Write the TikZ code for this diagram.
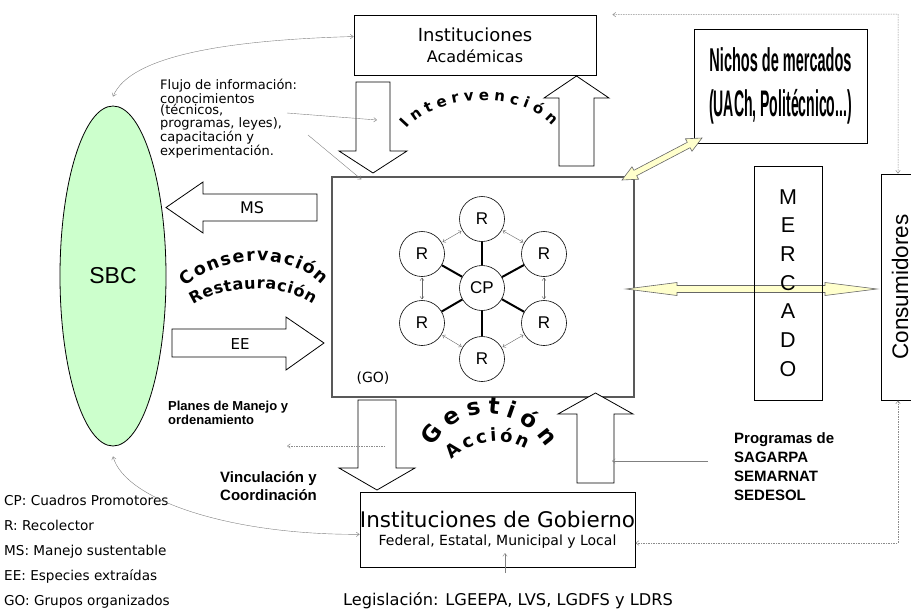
\documentclass[tikz,border=0pt]{standalone}
\usepackage{fontspec}
\setmainfont{Liberation Sans}
\newfontfamily\tahofont{DejaVu Sans}
\usetikzlibrary{shapes.geometric,arrows.meta,decorations.text}

\definecolor{sbcgreen}{HTML}{CCFFCC}
\definecolor{paleyel}{HTML}{FFFFCC}
\newcommand\setfs[1]{\fontsize{#1}{#1}\selectfont}

\tikzset{
  box/.style={draw, line width=0.8pt, inner sep=0pt, align=center},
  txt/.style={inner sep=0pt, align=left},
  recol/.style={circle, draw, line width=0.6pt, minimum size=45pt, inner sep=0pt, font=\setfs{17}},
  spoke/.style={line width=2pt},
  ring/.style={gray!80!black, line width=0.4pt, {Straight Barb[length=2.5pt,width=4pt]}-{Straight Barb[length=2.5pt,width=4pt]}, shorten <=1pt, shorten >=1pt},
  blk/.style={draw, line width=0.8pt, fill=white},
  yel/.style={draw=black!60, line width=0.6pt, fill=paleyel},
  info/.style={gray, line width=0.4pt, -{Straight Barb[length=3pt,width=4.5pt]}},
  dots/.style={gray!90, line width=0.5pt, dash pattern=on 1.5pt off 1pt},
  arcline/.style={gray, line width=0.4pt, {Straight Barb[length=3pt,width=4.5pt]}-{Straight Barb[length=3pt,width=4.5pt]}},
  curvetext/.style={decorate, decoration={text along path, text align=fit to path, text={#1}}}
}

\begin{document}
\begin{tikzpicture}[x=1pt,y=-1pt]
\useasboundingbox (0,0) rectangle (911,611);

% boxes
\node[box, minimum width=242pt, minimum height=60pt, font=\tahofont\fontsize{16}{21}\selectfont] (academ) at (475,45) {{\setfs{18}Instituciones}\\Académicas};
\node[box, draw=black!65, line width=1.1pt, minimum width=302pt, minimum height=220pt] (grupo) at (483,287) {};
\node[txt, font=\tahofont\setfs{14}] (go) at (373,378) {(GO)};
\node[ellipse, draw, line width=0.8pt, fill=sbcgreen, minimum width=106pt, minimum height=340pt, inner sep=0pt, font=\setfs{23}] (sbc) at (113,276) {SBC};
\node[box, minimum width=173pt, minimum height=114pt, font=\bfseries\fontsize{33}{45}\selectfont] (nichos) at (780.5,86)
  {\scalebox{0.44}[1]{Nichos de mercados}\\\scalebox{0.38}[1]{\setfs{37}(UACh, Politécnico...)}};
\node[box, minimum width=271pt, minimum height=75pt, font=\tahofont\fontsize{14}{18}\selectfont] (gob) at (497.5,529.5)
  {{\setfs{21.5}Instituciones de Gobierno}\\Federal, Estatal, Municipal y Local};

% recolectores
\node[recol] (cp) at (482,288) {CP};
\foreach \n/\x/\y in {1/482/219, 2/544/254, 3/544/323, 4/482/359, 5/422/323, 6/422/254}
  \node[recol] (r\n) at (\x,\y) {R};
\foreach \n in {1,...,6}
  \draw[spoke] (cp) -- (r\n);
\foreach \a/\b in {1/2, 2/3, 3/4, 4/5, 5/6, 6/1}
  \draw[ring] (r\a) -- (r\b);

% block arrows
\draw[blk] (356,82) -- (390,82) -- (390,151) -- (407,151) -- (373,173) -- (339,151) -- (356,151) -- cycle;
\draw[blk] (559,166) -- (594,166) -- (594,98) -- (609,98) -- (576.5,76) -- (544,98) -- (559,98) -- cycle;
\draw[blk] (317,194) -- (317,221) -- (203,221) -- (203,233) -- (166,207.5) -- (203,182) -- (203,194) -- cycle;
\draw[blk] (172,329) -- (286,329) -- (286,317) -- (324,343) -- (286,370) -- (286,357) -- (172,357) -- cycle;
\draw[blk] (358,400) -- (396,400) -- (396,468) -- (415,468) -- (377,490) -- (339,468) -- (358,468) -- cycle;
\draw[blk] (577,483) -- (614,483) -- (614,414) -- (633,414) -- (595.5,393) -- (558,414) -- (577,414) -- cycle;
\node[txt, font=\tahofont\setfs{16}] (ms) at (252,208) {MS};
\node[txt, font=\tahofont\setfs{15}] (ee) at (240,344) {EE};

% yellow arrows
\draw[yel] (622,180) -- (638.6,179.2) -- (636.7,175.7) -- (690.1,147.7) -- (692.0,151.2) -- (702,138)
  -- (685.4,138.8) -- (687.3,142.3) -- (633.9,170.3) -- (632.0,166.8) -- cycle;
\draw[yel] (626,289) -- (677,282.5) -- (677,285.5) -- (825,285.5) -- (825,282.5) -- (877,289)
  -- (825,295.5) -- (825,292.5) -- (677,292.5) -- (677,295.5) -- cycle;

\node[box, minimum width=68pt, minimum height=234pt, font=\fontsize{21.5}{28.7}\selectfont] (mercado) at (788,283) {M\\E\\R\\C\\A\\D\\O};
\node[box, rotate=90, minimum width=226pt, minimum height=38pt, font=\setfs{22.5}] (consum) at (900,287) {Consumidores};

% curved words
\path[curvetext={|\tahofont\bfseries\fontsize{15}{15}\selectfont|Intervención}] (407,129) .. controls (437,93) and (520,90) .. (552,126);
\path[curvetext={|\tahofont\bfseries\fontsize{17.5}{17.5}\selectfont|Conservación}] (186,287) .. controls (219,255) and (288,250) .. (322,285);
\path[curvetext={|\tahofont\bfseries\fontsize{16}{16}\selectfont|Restauración}] (193,305) .. controls (224,285) and (280,282) .. (313,304);
\path[curvetext={|\tahofont\bfseries\fontsize{23}{23}\selectfont|Gestión}] (433,447) .. controls (457,403) and (517,403) .. (546,448);
\path[curvetext={|\tahofont\bfseries\fontsize{18}{18}\selectfont|Acción}] (452,460) .. controls (470,441) and (504,435) .. (526,449);

% texts
\node[txt, anchor=north west, font=\tahofont\fontsize{13}{11.5}\selectfont] (flujo) at (160,79)
  {Flujo de información:\\conocimientos\\(técnicos,\\programas, leyes),\\capacitación y\\experimentación.};
\node[txt, anchor=north west, font=\bfseries\fontsize{13}{14}\selectfont] (planes) at (168,401) {Planes de Manejo y\\ordenamiento};
\node[txt, anchor=north west, font=\bfseries\fontsize{15}{18.5}\selectfont] (vincul) at (220,471) {Vinculación y\\Coordinación};
\node[txt, anchor=north west, font=\bfseries\fontsize{15}{19}\selectfont] (progr) at (734,432) {Programas de\\SAGARPA\\SEMARNAT\\SEDESOL};
\node[txt, anchor=base, font=\tahofont\setfs{16.2}] (legis) at (508,605) {Legislación: LGEEPA, LVS, LGDFS y LDRS};
\foreach \i/\t in {0/CP: Cuadros Promotores, 1/R: Recolector, 2/MS: Manejo sustentable, 3/EE: Especies extraídas, 4/GO: Grupos organizados}
  \node[txt, anchor=base west, font=\tahofont\setfs{13.6}] (leg\i) at (4,{505+25*\i}) {\t};

% thin connectors
\coordinate (fl1) at (287,113);
\coordinate (fl2) at (377,120);
\coordinate (fl3) at (308,135);
\coordinate (pg) at (708,461);
\coordinate (pgend) at (612,461);
\coordinate (lg) at (505,573);
\coordinate (lgend) at (505,553);
\coordinate (pm1) at (385,446);
\coordinate (pm2) at (287,446);
\coordinate (tr) at (898,14);
\coordinate (br) at (898,543);
\draw[info] (fl1) -- (fl2);
\draw[info] (fl3) -- ([xshift=30pt,yshift=-3pt]grupo.north west);
\draw[info] (pg) -- (pgend);
\draw[info] (lg) -- (lgend);
\draw[dots, -{Straight Barb[length=3pt,width=4.5pt]}] (pm1) -- (pm2);
\draw[dots, {Straight Barb[length=3pt,width=4.5pt]}-{Straight Barb[length=3pt,width=4.5pt]}]
  ([xshift=16pt]academ.north east) -- (tr) -- ([xshift=-2pt]consum.east);
\draw[dots, {Straight Barb[length=3pt,width=4.5pt]}-{Straight Barb[length=3pt,width=4.5pt]}]
  ([xshift=-2pt]consum.west) -- (br) -- ([yshift=-13.5pt]gob.east);
\draw[arcline] (academ.176) .. controls (230,40) and (130,55) .. ([yshift=9pt]sbc.north);
\draw[arcline] ([yshift=-10pt]sbc.south) .. controls (125,500) and (230,535) .. (gob.182);
\end{tikzpicture}
\end{document}
